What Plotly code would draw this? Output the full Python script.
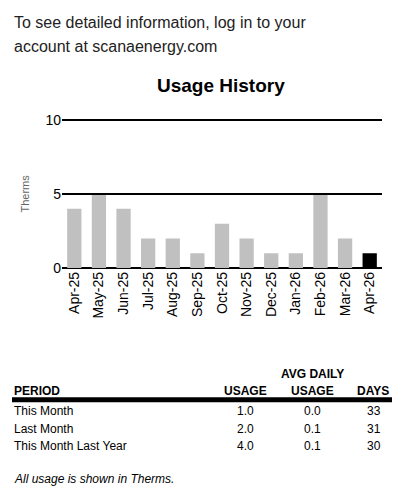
import plotly.graph_objects as go

months = ["Apr-25", "May-25", "Jun-25", "Jul-25", "Aug-25", "Sep-25", "Oct-25",
          "Nov-25", "Dec-25", "Jan-26", "Feb-26", "Mar-26", "Apr-26"]
usage = [4, 5, 4, 2, 2, 1, 3, 2, 1, 1, 5, 2, 1]

periods = ["This Month", "Last Month", "This Month Last Year"]
period_usage = ["1.0", "2.0", "4.0"]
avg_daily = ["0.0", "0.1", "0.1"]
days = ["33", "31", "30"]

OFF = 8  # page body margin
W, H = 403 - 2 * OFF, 502 - 2 * OFF
px = lambda x: (x - OFF) / W
py = lambda y: 1 - (y - OFF) / H
FONT = "Liberation Sans, Arial, sans-serif"

colors = ["#c0c0c0"] * (len(months) - 1) + ["#000000"]

fig = go.Figure(go.Bar(x=months, y=usage, marker=dict(color=colors, line=dict(width=0)),
                       hoverinfo="x+y"))

ann = []
def txt(x, y, s, size=12, bold=False, anchor="left", color="#000", italic=False, angle=0):
    if bold:
        s = "<b>" + s + "</b>"
    if italic:
        s = "<i>" + s + "</i>"
    ann.append(dict(x=px(x), y=py(y), xref="paper", yref="paper", text=s, showarrow=False,
                    xanchor=anchor, yanchor="middle", textangle=angle,
                    font=dict(size=size, color=color, family=FONT)))

txt(12, 22, "To see detailed information, log in to your", size=16, color="#222")
txt(12, 46, "account at scanaenergy.com", size=16, color="#222")
txt(221, 86, "Usage History", size=19, bold=True, anchor="center")
txt(25, 196, "Therms", size=11, color="#666", anchor="center", angle=-90)

txt(312, 380, "AVG DAILY", bold=True, anchor="center")
txt(12, 397, "PERIOD", bold=True)
txt(245, 397, "USAGE", bold=True, anchor="center")
txt(312, 397, "USAGE", bold=True, anchor="center")
txt(373, 397, "DAYS", bold=True, anchor="center")
for i, p in enumerate(periods):
    y = 418 + i * 17.5
    txt(12, y, p)
    txt(246, y, period_usage[i], anchor="center")
    txt(312, y, avg_daily[i], anchor="center")
    txt(374, y, days[i], anchor="center")
txt(12, 487, "All usage is shown in Therms.", italic=True)

shapes = [dict(type="line", xref="paper", yref="paper", x0=px(12), x1=px(392),
               y0=py(406), y1=py(406), line=dict(color="#000", width=5))]
for v in [5, 10]:
    shapes.append(dict(type="line", xref="paper", yref="y", x0=px(62), x1=px(382),
                       y0=v, y1=v, line=dict(color="#000", width=2), layer="above"))

fig.update_layout(
    width=W, height=H, margin=dict(l=0, r=0, t=0, b=0),
    plot_bgcolor="white", paper_bgcolor="white", showlegend=False,
    bargap=0.42, annotations=ann, shapes=shapes,
    font=dict(family=FONT, color="#000"),
    xaxis=dict(domain=[px(62), px(382)], tickangle=-90, tickfont=dict(size=14),
               showgrid=False, ticks="", showline=False),
    yaxis=dict(domain=[py(272), py(113.5)], range=[0, 10.5], tickvals=[0, 5, 10],
               tickfont=dict(size=14), showgrid=False,
               zeroline=True, zerolinecolor="#000", zerolinewidth=2),
)

fig.write_html("out.html")
